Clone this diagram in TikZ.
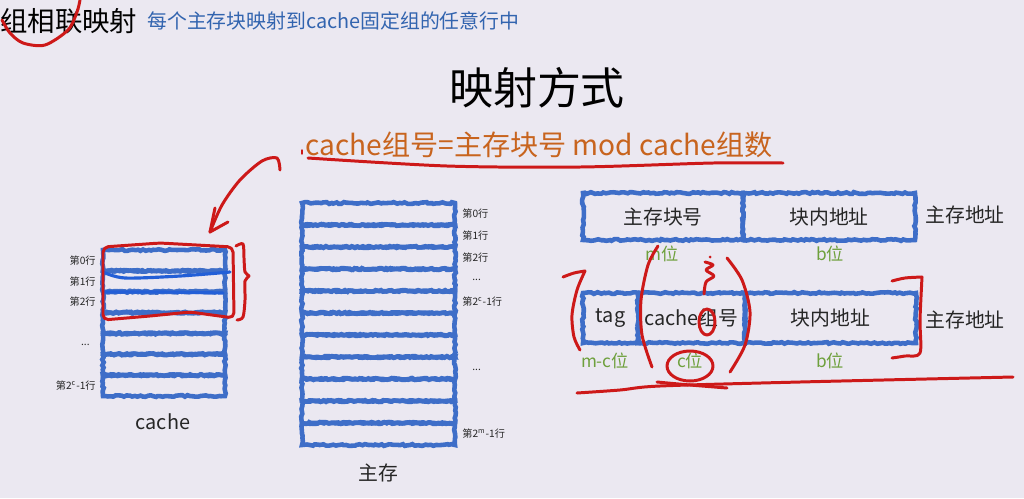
\documentclass[tikz,border=0pt]{standalone}
\usepackage{fontspec}
\setmainfont{Noto Sans CJK SC}
\usetikzlibrary{decorations.pathmorphing}
\definecolor{bg}{RGB}{235,232,241}
\definecolor{bblue}{RGB}{62,110,200}
\definecolor{hblue}{RGB}{35,95,215}
\definecolor{subblue}{RGB}{50,100,175}
\definecolor{orng}{RGB}{200,100,30}
\definecolor{grn}{RGB}{110,160,60}
\definecolor{pen}{RGB}{205,25,25}
\begin{document}
\begin{tikzpicture}[x=0.02cm,y=-0.02cm,
  rough/.style={draw=bblue, line width=2.6pt, decorate,
    decoration={random steps, segment length=1.5pt, amplitude=0.5pt}},
  field/.style={rough, inner sep=0pt, font=\fontsize{11.3pt}{12pt}\selectfont, text=black!85},
  rowlab/.style={font=\fontsize{5.8pt}{6pt}\selectfont, text=black!85, inner sep=0pt},
  bits/.style={font=\fontsize{9.8pt}{10pt}\selectfont, text=grn, inner sep=0pt},
  side/.style={font=\fontsize{11.3pt}{12pt}\selectfont, text=black!85, inner sep=0pt},
  redpen/.style={draw=pen, line width=1.7pt, line cap=round, line join=round},
  bluepen/.style={draw=hblue, line width=1.8pt, line cap=round}]
\fill[bg] (0,0) rectangle (1024,498);
\useasboundingbox (0,0) rectangle (1024,498);

% titles
\node[anchor=west, inner sep=0pt, font=\fontsize{15.6pt}{16pt}\selectfont] (title) at (0,21) {组相联映射};
\node[anchor=west, inner sep=0pt, text=subblue, font=\fontsize{11.3pt}{12pt}\selectfont] (sub) at (147,21) {每个主存块映射到cache固定组的任意行中};
\node[inner sep=0pt, font=\fontsize{25pt}{26pt}\selectfont] (head) at (537,88) {映射方式};
\node[inner sep=0pt, text=orng, font=\fontsize{16pt}{17pt}\selectfont] (formula) at (539,145) {cache组号=主存块号 mod cache组数};

% cache
\foreach \i in {0,...,6}{
  \draw[rough] (103,{250+20.86*\i}) rectangle ++(122,20.86);
}
\node[rowlab, anchor=east] (c0) at (96,261) {第0行};
\node[rowlab, anchor=east] (c1) at (96,282) {第1行};
\node[rowlab, anchor=east] (c2) at (96,302) {第2行};
\node[rowlab, anchor=east] (cd) at (90,345) {...};
\node[rowlab, anchor=east] (cn) at (96,386) {第2\textsuperscript{c}-1行};
\node[side] (cachelab) at (163,422) {cache};

% main memory
\foreach \i in {0,...,10}{
  \draw[rough] (302,{203+22*\i}) rectangle ++(153,22);
}
\node[rowlab, anchor=west] (m0) at (462,214) {第0行};
\node[rowlab, anchor=west] (m1) at (462,236) {第1行};
\node[rowlab, anchor=west] (m2) at (462,258) {第2行};
\node[rowlab, anchor=west] (md1) at (472,280) {...};
\node[rowlab, anchor=west] (mc) at (462,302) {第2\textsuperscript{c}-1行};
\node[rowlab, anchor=west] (md2) at (472,370) {...};
\node[rowlab, anchor=west] (mn) at (462,434) {第2\textsuperscript{m}-1行};
\node[side] (mainlab) at (378,473) {主存};

% address 1
\node[field, minimum width=3.2cm, minimum height=0.94cm] (blk) at (663,216.5) {主存块号};
\node[field, minimum width=3.44cm, minimum height=0.94cm] (off1) at (829,216.5) {块内地址};
\node[side, anchor=west] (addr1) at (925,215) {主存地址};
\node[bits] (mb) at (662,254) {m位};
\node[bits] (bb1) at (830,254) {b位};

% address 2
\node[field, minimum width=1.1cm, minimum height=1.0cm] (tag) at (610.5,318) {tag};
\node[field, minimum width=2.14cm, minimum height=1.0cm] (grp) at (691.5,318) {cache组号};
\node[field, minimum width=3.42cm, minimum height=1.0cm] (off2) at (830.5,318) {块内地址};
\node[side, anchor=west] (addr2) at (925,320) {主存地址};
\node[bits] (mcb) at (605,361) {m-c位};
\node[bits] (cb) at (690,361) {c位};
\node[bits] (bb2) at (830,361) {b位};

% hand annotations
\draw[redpen] plot[smooth] coordinates {(80,0) (77,12) (68,30) (45,45) (23,43) (10,33) (2,20)};
\draw[redpen] plot[smooth] coordinates {(308,158) (447,166) (580,167) (713,163) (783,163)};
\draw[redpen, line width=0.8pt] (302,150) -- (302,154);
\draw[redpen] plot[smooth] coordinates {(280,170) (277,158) (262,161) (240,180) (222,205) (210,232)};
\draw[redpen] (215,208) -- (210,232) -- (228,222);

\draw[bluepen] plot[smooth] coordinates {(103,272) (125,278) (180,276) (230,272)};
\draw[bluepen] plot[smooth] coordinates {(103,292) (160,292) (223,293)};
\draw[redpen, rounded corners=3pt] (103,320) -- (103,247) -- (160,243) -- (233,247) -- (234,318) -- (190,312) -- (150,316) -- cycle;
\draw[redpen] plot[smooth] coordinates {(236,246) (243,244) (244,258) (245,272) (249,276) (245,281) (245,300) (243,317) (237,320)};

\draw[redpen] plot[smooth] coordinates {(563,277) (574,273) (585,271)};
\draw[redpen] plot[smooth] coordinates {(585,271) (577,290) (572,315) (574,337) (580,350)};
\draw[redpen] plot[smooth] coordinates {(658,246) (648,265) (641,300) (642,335) (652,367)};
\draw[redpen] plot[smooth] coordinates {(727,258) (742,280) (750,312) (745,345) (730,372)};
\draw[redpen] plot[smooth] coordinates {(705,262) (713,265) (706,270) (714,276) (706,282) (704,294)};
\fill[pen] (710,257) circle (1.5);
\draw[redpen] (707,322) ellipse (8 and 13);
\draw[redpen] (690,366) ellipse (23 and 15);
\draw[redpen] plot[smooth] coordinates {(657,382) (690,385) (727,388)};
\draw[redpen] plot[smooth] coordinates {(892,281) (905,278) (922,277)};
\draw[redpen] plot[smooth] coordinates {(922,277) (920,320) (920,353) (905,356) (892,358)};
\draw[redpen] plot[smooth] coordinates {(577,393) (620,390) (660,386) (800,382) (1013,377)};
\end{tikzpicture}
\end{document}
